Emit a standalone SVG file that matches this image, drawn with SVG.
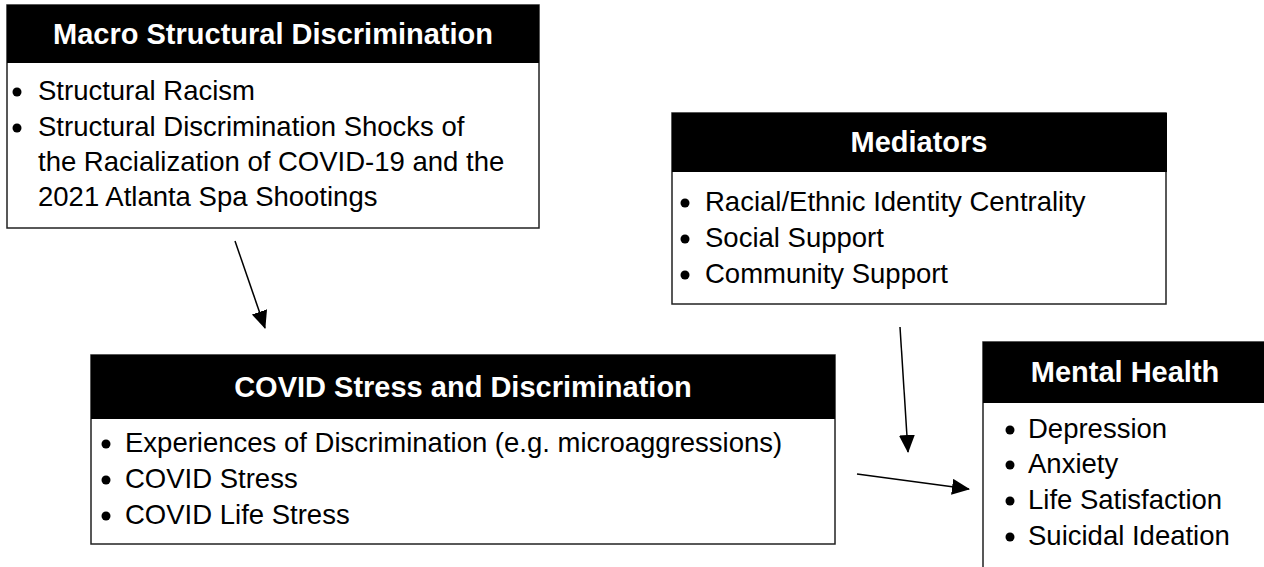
<svg xmlns="http://www.w3.org/2000/svg" width="1264" height="567" viewBox="0 0 1264 567">
<style>
.body{fill:#fff;stroke:#222;stroke-width:1.5}
.head{fill:#000}
.title{font-family:"Liberation Sans",Arial,sans-serif;font-weight:bold;font-size:29px;fill:#fff;text-anchor:middle}
.item{font-family:"Liberation Sans",Arial,sans-serif;font-size:27.5px;fill:#000}
.dot{fill:#000}
.conn{stroke:#000;stroke-width:1.5;fill:none}
</style>
<defs>
<marker id="ah" markerUnits="userSpaceOnUse" markerWidth="19" markerHeight="17" refX="17" refY="8" orient="auto">
<path d="M0,0 L18,8 L0,16 z" fill="#000"/>
</marker>
</defs>
<rect width="1264" height="567" fill="#fff"/>
<g id="macro">
<rect class="body" x="7" y="5" width="532" height="223"/>
<rect class="head" x="7" y="5" width="532" height="58"/>
<text class="title" x="273" y="44">Macro Structural Discrimination</text>
<circle class="dot" cx="17" cy="92" r="4.5"/>
<text class="item" x="38" y="100">Structural Racism</text>
<circle class="dot" cx="17" cy="128" r="4.5"/>
<text class="item" x="38" y="136">Structural Discrimination Shocks of</text>
<text class="item" x="38" y="171">the Racialization of COVID-19 and the</text>
<text class="item" x="38" y="206">2021 Atlanta Spa Shootings</text>
</g>
<g id="mediators">
<rect class="body" x="672" y="113" width="494" height="191"/>
<rect class="head" x="672" y="113" width="495" height="59"/>
<text class="title" x="919" y="152">Mediators</text>
<circle class="dot" cx="685" cy="203" r="4.5"/>
<text class="item" x="705" y="211">Racial/Ethnic Identity Centrality</text>
<circle class="dot" cx="685" cy="239" r="4.5"/>
<text class="item" x="705" y="247">Social Support</text>
<circle class="dot" cx="685" cy="275" r="4.5"/>
<text class="item" x="705" y="283">Community Support</text>
</g>
<g id="covid">
<rect class="body" x="91" y="355" width="744" height="189"/>
<rect class="head" x="91" y="355" width="744" height="64"/>
<text class="title" x="463" y="397">COVID Stress and Discrimination</text>
<circle class="dot" cx="106" cy="444" r="4.5"/>
<text class="item" x="125" y="452">Experiences of Discrimination (e.g. microaggressions)</text>
<circle class="dot" cx="106" cy="480" r="4.5"/>
<text class="item" x="125" y="488">COVID Stress</text>
<circle class="dot" cx="106" cy="516" r="4.5"/>
<text class="item" x="125" y="524">COVID Life Stress</text>
</g>
<g id="mental">
<rect class="body" x="983" y="342" width="290" height="240"/>
<rect class="head" x="983" y="342" width="290" height="61"/>
<text class="title" x="1125" y="382">Mental Health</text>
<circle class="dot" cx="1010" cy="430" r="4.5"/>
<text class="item" x="1028" y="438">Depression</text>
<circle class="dot" cx="1010" cy="465" r="4.5"/>
<text class="item" x="1028" y="473">Anxiety</text>
<circle class="dot" cx="1010" cy="501" r="4.5"/>
<text class="item" x="1028" y="509">Life Satisfaction</text>
<circle class="dot" cx="1010" cy="537" r="4.5"/>
<text class="item" x="1028" y="545">Suicidal Ideation</text>
</g>
<g id="connectors">
<line class="conn" x1="235" y1="241" x2="265" y2="328" marker-end="url(#ah)"/>
<line class="conn" x1="900" y1="327" x2="908" y2="452" marker-end="url(#ah)"/>
<line class="conn" x1="857" y1="474" x2="969" y2="489" marker-end="url(#ah)"/>
</g>
</svg>
